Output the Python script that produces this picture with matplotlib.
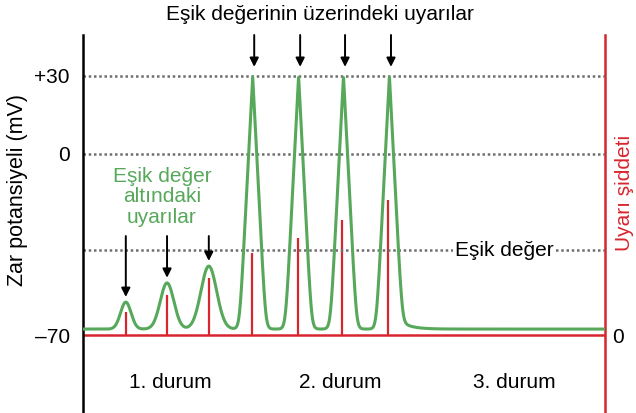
import numpy as np
import matplotlib.pyplot as plt

plt.rcParams['font.family'] = ['Liberation Sans', 'DejaVu Sans']

# stimulus times (ms, schematic) and intensities (arbitrary units)
stim_times = [8.2, 16.1, 24.1, 32.3, 41.1, 49.7, 58.5]
stim_strength = [9, 15.5, 22, 31.5, 37.5, 44.5, 52]

# membrane response
rest_mv = -67.7
sub_peak_mv = [-57.3, -49.9, -43.4]     # sub-threshold bumps
sub_width = [1.0, 1.3, 1.5]
spike_peak_mv = [30, 30, 30, 30]        # action potentials
spike_width = 2.5
threshold_mv = -37.2

yticks = [30, 0, -70]
ytick_labels = ['+30', '0', '\u201370']
durum_labels = ['1. durum', '2. durum', '3. durum']
durum_x = [16.7, 49.2, 82.6]

green = '#57a85b'
red = '#d7262e'
grey = '#6e6e6e'

fig = plt.figure(figsize=(6.36, 4.13), dpi=100)
ax = fig.add_axes([83 / 636, 0, (605 - 83) / 636, (413 - 35) / 413])
ylo, yhi = -100.1, 45.8
ax.set_xlim(0, 100)
ax.set_ylim(ylo, yhi)

# build the green trace from the peaks
t = np.linspace(0, 100, 3000)
v = np.full_like(t, rest_mv)
for tp, pk, w in zip(stim_times[:3], sub_peak_mv, sub_width):
    v += (pk - rest_mv) * np.exp(-0.5 * ((t - tp) / w) ** 2)
s = 0.1
for tp, pk in zip(stim_times[3:], spike_peak_mv):
    x = np.abs(t - tp - 0.2) / spike_width
    v += (pk - rest_mv) * s * np.log1p(np.exp((1 - x) / s))
t0 = stim_times[-1] + spike_width
v += 2.7 / (1 + np.exp(-(t - t0) / 0.3)) * np.exp(-np.clip(t - t0, 0, None) / 2.0)

for lvl in [30, 0, threshold_mv]:
    ax.axhline(lvl, color=grey, lw=1.8, ls=(0, (1, 1.1)), zorder=1)

ax.plot(t, v, color=green, lw=2.2, zorder=3, solid_capstyle='butt')

for sp in ['top', 'bottom']:
    ax.spines[sp].set_visible(False)
ax.spines['left'].set_linewidth(1.8)
ax.spines['left'].set_color('black')
ax.spines['right'].set_visible(False)
ax.set_xticks([])
ax.set_yticks(yticks)
ax.set_yticklabels(ytick_labels, fontsize=15)
ax.tick_params(axis='y', length=0, pad=9.5)

# stimulus axis on the right
ax2 = ax.twinx()
ax2.set_ylim(ylo + 70, yhi + 70)
for sp in ['top', 'bottom', 'left']:
    ax2.spines[sp].set_visible(False)
ax2.spines['right'].set_color(red)
ax2.spines['right'].set_linewidth(1.8)
ax2.axhline(0, color=red, lw=1.8, zorder=2)
ax2.vlines(stim_times, 0, stim_strength, color=red, lw=1.6, zorder=2)
ax2.set_yticks([0])
ax2.set_yticklabels(['0'], fontsize=15)
ax2.tick_params(axis='y', length=0, pad=5)
ax.set_zorder(2)
ax.patch.set_visible(False)

# arrows
for tp in stim_times[3:]:
    ax.annotate('', xy=(tp + 0.5, 33.5), xytext=(tp + 0.5, 45.8),
                arrowprops=dict(arrowstyle='-|>', color='black', lw=1.4,
                                mutation_scale=13, shrinkA=0, shrinkB=0),
                annotation_clip=False)
for tp, pk in zip(stim_times[:3], sub_peak_mv):
    ax.annotate('', xy=(tp, pk + 2), xytext=(tp, -31.8),
                arrowprops=dict(arrowstyle='-|>', color='black', lw=1.4,
                                mutation_scale=13, shrinkA=0, shrinkB=0))

# texts
ax.text(45.4, 53.6, 'Eşik değerinin üzerindeki uyarılar', ha='center',
        va='center', fontsize=15)
ax.text(15.1, -16.7, 'Eşik değer\naltındaki\nuyarılar', ha='center',
        va='center', fontsize=15, color=green, linespacing=1.1)
ax.text(80.8, threshold_mv, 'Eşik değer', ha='center', va='center',
        fontsize=15, zorder=4,
        bbox=dict(facecolor='white', edgecolor='none', pad=1.5))
for lab, xx in zip(durum_labels, durum_x):
    ax.text(xx, -88.5, lab, ha='center', va='center', fontsize=15)

fig.text(18 / 636, 1 - 190 / 413, 'Zar potansiyeli (mV)', rotation=90,
         ha='center', va='center', fontsize=15.5)
fig.text(624 / 636, 1 - 193 / 413, 'Uyarı şiddeti', rotation=90,
         ha='center', va='center', fontsize=15, color=red)

fig.savefig('out.png', dpi=100)
